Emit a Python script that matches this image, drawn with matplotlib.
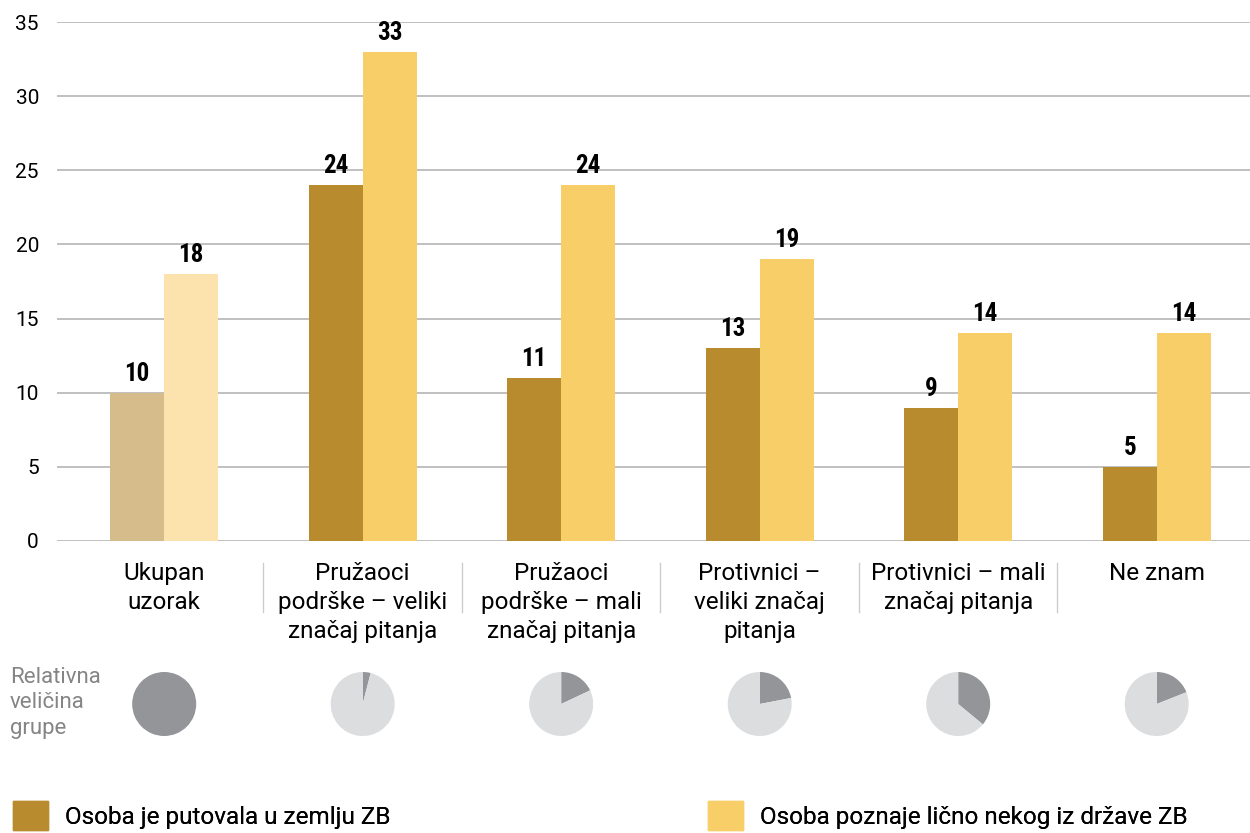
import matplotlib
matplotlib.use("Agg")
import matplotlib.pyplot as plt
from matplotlib.patches import Patch
import numpy as np

categories = [
    "Ukupan\nuzorak",
    "Pružaoci\npodrške – veliki\nznačaj pitanja",
    "Pružaoci\npodrške – mali\nznačaj pitanja",
    "Protivnici –\nveliki značaj\npitanja",
    "Protivnici – mali\nznačaj pitanja",
    "Ne znam",
]
traveled = [10, 24, 11, 13, 9, 5]
knows = [18, 33, 24, 19, 14, 14]
group_share = [100, 4, 18, 22, 36, 19]   # relative group size, percent

series_names = ["Osoba je putovala u zemlju ZB", "Osoba poznaje lično nekog iz države ZB"]
yticks = [0, 5, 10, 15, 20, 25, 30, 35]

DARK = "#B88B2E"
LIGHT = "#F8CE69"
DARK_FADED = "#D6BC8A"
LIGHT_FADED = "#FCE3AD"
PIE_DARK = "#939598"
PIE_LIGHT = "#DCDDDF"
GRID = "#B5B5B5"

plt.rcParams["font.family"] = ["Roboto", "DejaVu Sans"]
NUM_FONT = ["Roboto Condensed", "Archivo Narrow", "Oswald", "DejaVu Sans"]

fig = plt.figure(figsize=(12.5, 8.33), dpi=100, facecolor="white")
W, H = 1250, 833
ax = fig.add_axes([57 / W, 1 - 541 / H, 1 - 57 / W, (541 - 22) / H])

x = np.arange(len(categories))
bw = 0.272
dark_cols = [DARK_FADED] + [DARK] * (len(x) - 1)
light_cols = [LIGHT_FADED] + [LIGHT] * (len(x) - 1)
b1 = ax.bar(x - bw / 2, traveled, bw, color=dark_cols, zorder=2)
b2 = ax.bar(x + bw / 2, knows, bw, color=light_cols, zorder=2)

for bars in (b1, b2):
    for rect in bars:
        ax.annotate(f"{int(rect.get_height())}",
                    (rect.get_x() + rect.get_width() / 2, rect.get_height()),
                    xytext=(0, 5), textcoords="offset points",
                    ha="center", va="bottom", fontsize=18, fontweight="bold",
                    family=NUM_FONT, color="black")

ax.set_xlim(-0.54, 5.47)
ax.set_ylim(0, 35)
ax.set_yticks(yticks)
ax.set_yticklabels([str(t) for t in yticks], fontsize=15)
ax.tick_params(axis="y", length=0, pad=13)
ax.grid(axis="y", color=GRID, linewidth=1.2, zorder=0)
for s in ax.spines.values():
    s.set_visible(False)

ax.set_xticks(x)
ax.set_xticklabels(categories, fontsize=17.5, linespacing=1.33, va="top")
ax.tick_params(axis="x", length=0, pad=15)

# separators between categories
for xs in x[:-1] + 0.5:
    ax.plot([xs, xs], [-1.5, -4.8], color="#CCCCCC", linewidth=1,
            clip_on=False, zorder=1)

# relative group size pies
fig.canvas.draw()
r_px = 32
for xi, share in zip(x, group_share):
    cx, _ = ax.transData.transform((xi, 0))
    cy = 704
    pax = fig.add_axes([(cx - r_px) / W, 1 - (cy + r_px) / H, 2 * r_px / W, 2 * r_px / H])
    vals = [share, 100 - share] if share < 100 else [100]
    cols = [PIE_DARK, PIE_LIGHT] if share < 100 else [PIE_DARK]
    pax.pie(vals, colors=cols, startangle=90, counterclock=False, radius=1.0)
    pax.set_xlim(-1, 1)
    pax.set_ylim(-1, 1)
    pax.set_aspect("equal")

fig.text(10 / W, 1 - 667 / H, "Relativna\nveličina\ngrupe", fontsize=16,
         color="#858585", va="top", ha="left", linespacing=1.27)

# legend
leg_font = {"family": ["Roboto", "DejaVu Sans"], "size": 17.5}
for name, col, xpos in zip(series_names, [DARK, LIGHT], [3, 698]):
    lg = fig.legend(handles=[Patch(color=col)], labels=[name],
                    loc="lower left", bbox_to_anchor=(xpos / W, -0.008),
                    frameon=False, handlelength=1.45, handleheight=1.45,
                    handletextpad=0.7, prop=leg_font, borderaxespad=0)
    fig.add_artist(lg)

fig.savefig("out.png", dpi=100, facecolor="white")
